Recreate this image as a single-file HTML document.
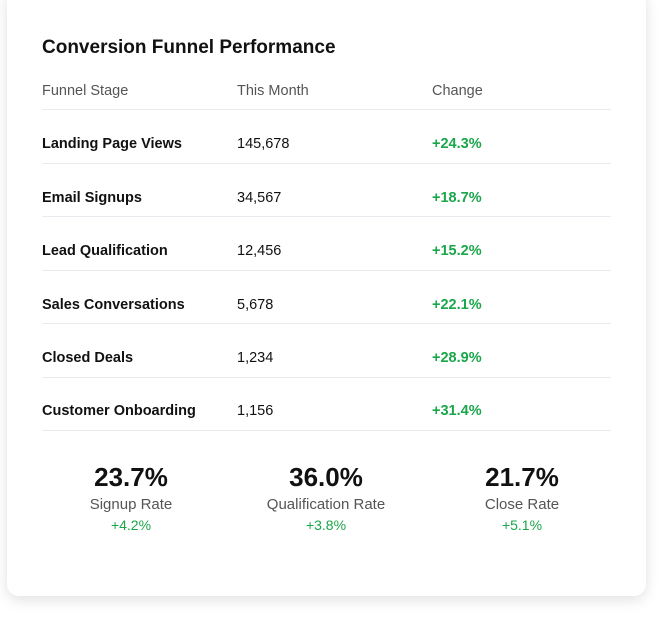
<!DOCTYPE html>
<html><head><style>
body{margin:0;width:670px;height:618px;background:#fff;font-family:"Liberation Sans",sans-serif;position:relative;overflow:hidden}
.card{position:absolute;left:7px;top:-12px;width:639px;height:608px;background:#fff;border-radius:12px;box-shadow:0 4px 14px rgba(0,0,0,0.12)}
.t{position:absolute;white-space:nowrap;line-height:1}
.title{left:42px;top:38px;font-size:19px;font-weight:bold;color:#111}
.h{top:84px;font-size:14.5px;color:#555}
.line{position:absolute;left:42px;width:569px;height:1px;background:#e8ecf0}
.name{font-size:14.5px;font-weight:bold;color:#111;left:42px}
.val{font-size:14.5px;color:#111;left:237px}
.chg{font-size:14.5px;font-weight:bold;color:#1aa64a;left:432px}
.s{position:absolute;width:200px;text-align:center;line-height:1}
.big{font-size:26px;color:#111;font-weight:bold}
.lab{font-size:15px;color:#555}
.g{font-size:14px;color:#1aa64a}
</style></head><body>
<div class="card"></div>
<div class="t title">Conversion Funnel Performance</div>
<div class="t h" style="left:42px">Funnel Stage</div>
<div class="t h" style="left:237px">This Month</div>
<div class="t h" style="left:432px">Change</div>
<div class="line" style="top:109px"></div>

<div class="t name" style="top:137px">Landing Page Views</div><div class="t val" style="top:137px">145,678</div><div class="t chg" style="top:137px">+24.3%</div>
<div class="line" style="top:163px"></div>
<div class="t name" style="top:191px">Email Signups</div><div class="t val" style="top:191px">34,567</div><div class="t chg" style="top:191px">+18.7%</div>
<div class="line" style="top:216px"></div>
<div class="t name" style="top:244px">Lead Qualification</div><div class="t val" style="top:244px">12,456</div><div class="t chg" style="top:244px">+15.2%</div>
<div class="line" style="top:270px"></div>
<div class="t name" style="top:298px">Sales Conversations</div><div class="t val" style="top:298px">5,678</div><div class="t chg" style="top:298px">+22.1%</div>
<div class="line" style="top:323px"></div>
<div class="t name" style="top:351px">Closed Deals</div><div class="t val" style="top:351px">1,234</div><div class="t chg" style="top:351px">+28.9%</div>
<div class="line" style="top:377px"></div>
<div class="t name" style="top:404px">Customer Onboarding</div><div class="t val" style="top:404px">1,156</div><div class="t chg" style="top:404px">+31.4%</div>
<div class="line" style="top:430px"></div>

<div class="s big" style="left:31px;top:464px">23.7%</div>
<div class="s lab" style="left:31px;top:497px">Signup Rate</div>
<div class="s g" style="left:31px;top:518px">+4.2%</div>
<div class="s big" style="left:226px;top:464px">36.0%</div>
<div class="s lab" style="left:226px;top:497px">Qualification Rate</div>
<div class="s g" style="left:226px;top:518px">+3.8%</div>
<div class="s big" style="left:422px;top:464px">21.7%</div>
<div class="s lab" style="left:422px;top:497px">Close Rate</div>
<div class="s g" style="left:422px;top:518px">+5.1%</div>
</body></html>
